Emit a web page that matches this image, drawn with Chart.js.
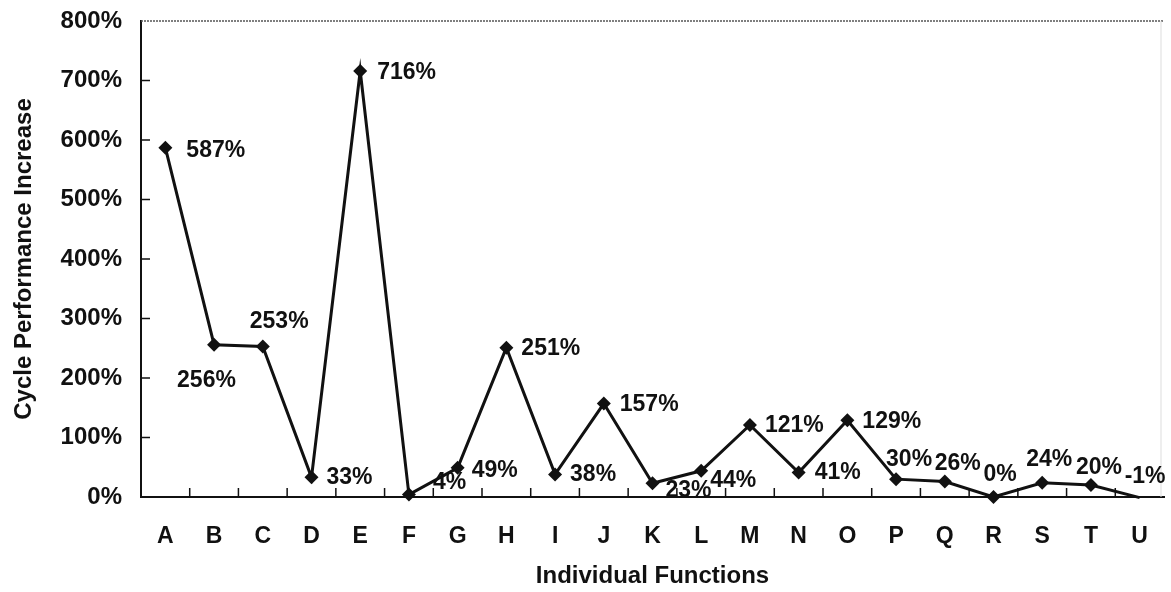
<!DOCTYPE html>
<html>
<head>
<meta charset="utf-8">
<script src="https://cdn.jsdelivr.net/npm/chart.js@4.4.0/dist/chart.umd.min.js"></script>
<style>
    html, body { margin: 0; padding: 0; background: #fff; }
    #wrap { position: relative; width: 1171px; height: 592px; }
</style>
</head>
<body>
<div id="wrap"><canvas id="mainChart"></canvas></div>
<script>
// Data
const functions = ['A', 'B', 'C', 'D', 'E', 'F', 'G', 'H', 'I', 'J', 'K',
                   'L', 'M', 'N', 'O', 'P', 'Q', 'R', 'S', 'T', 'U'];
const increase = [587, 256, 253, 33, 716, 4, 49, 251, 38, 157, 23,
                  44, 121, 41, 129, 30, 26, 0, 24, 20, -1];
const yMin = 0;
const yMax = 800;
const yStep = 100;
const xTitle = 'Individual Functions';
const yTitle = 'Cycle Performance Increase';

// where each value label sits relative to its point (dx, dy in px)
const labelShift = [
    [21, 3], [-37, 36], [-13, -25], [15, 0], [17, 2], [24, -12], [14, 3],
    [15, 1], [15, 0], [16, 1], [13, 7], [9, 10], [15, 1], [16, 0],
    [15, 1], [-10, -19], [-10, -18], [-10, -22], [-16, -23], [-15, -17], [-15, -21]
];

const FONT = '"Liberation Sans", Arial, Helvetica, sans-serif';
const INK = '#111';

// value labels, inward tick marks and the top/right frame
const decorations = {
    id: 'decorations',
    afterDatasetsDraw(chart) {
        const { ctx, chartArea: area, scales: { x, y } } = chart;
        ctx.save();

        // top frame (dotted grey) and right frame (light grey)
        ctx.strokeStyle = '#555';
        ctx.lineWidth = 1.5;
        ctx.setLineDash([2, 1]);
        ctx.beginPath();
        ctx.moveTo(area.left, area.top);
        ctx.lineTo(area.right, area.top);
        ctx.stroke();
        ctx.setLineDash([]);
        ctx.strokeStyle = '#ddd';
        ctx.lineWidth = 1;
        ctx.beginPath();
        ctx.moveTo(area.right - 3, area.top);
        ctx.lineTo(area.right - 3, area.bottom);
        ctx.stroke();

        // inward ticks
        ctx.strokeStyle = INK;
        ctx.lineWidth = 1.5;
        ctx.beginPath();
        for (let v = yMin + yStep; v < yMax; v += yStep) {
            const py = y.getPixelForValue(v);
            ctx.moveTo(area.left, py);
            ctx.lineTo(area.left + 9, py);
        }
        for (let i = 0; i < functions.length - 1; i++) {
            const px = (x.getPixelForValue(i) + x.getPixelForValue(i + 1)) / 2;
            ctx.moveTo(px, area.bottom);
            ctx.lineTo(px, area.bottom - 9);
        }
        ctx.stroke();

        // value labels
        const meta = chart.getDatasetMeta(0);
        ctx.fillStyle = INK;
        ctx.font = 'bold 23px ' + FONT;
        ctx.textAlign = 'left';
        ctx.textBaseline = 'middle';
        meta.data.forEach((pt, i) => {
            const [dx, dy] = labelShift[i];
            ctx.fillText(increase[i] + '%', pt.x + dx, pt.y + dy);
        });
        ctx.restore();
    }
};

const ctx = document.getElementById('mainChart').getContext('2d');
const mainChart = new Chart(ctx, {
    type: 'line',
    data: {
        labels: functions,
        datasets: [{
            data: increase,
            borderColor: INK,
            backgroundColor: INK,
            borderWidth: 3,
            tension: 0,
            pointStyle: 'rectRot',
            pointRadius: c => (c.dataIndex === increase.length - 1 ? 0 : 7),
            pointBorderWidth: 0,
            clip: false
        }]
    },
    options: {
        responsive: true,
        maintainAspectRatio: false,
        animation: false,
        layout: { padding: { top: 21, right: 0, left: 0, bottom: 0 } },
        plugins: {
            legend: { display: false },
            tooltip: { enabled: false }
        },
        scales: {
            x: {
                offset: true,
                grid: { drawOnChartArea: false, drawTicks: true, tickLength: 26, tickColor: 'transparent' },
                border: { color: INK, width: 2 },
                ticks: {
                    color: INK,
                    padding: 0,
                    font: { family: FONT, size: 23, weight: 'bold' }
                },
                title: {
                    display: true,
                    text: xTitle,
                    color: INK,
                    padding: { top: 0, bottom: 1 },
                    font: { family: FONT, size: 24, weight: 'bold' }
                },
                afterFit(scale) {
                    scale.height = 95;
                    scale.paddingLeft = 0;
                    scale.paddingRight = 0;
                }
            },
            y: {
                min: yMin,
                max: yMax,
                grid: { drawOnChartArea: false, drawTicks: true, tickLength: 19, tickColor: 'transparent' },
                border: { color: INK, width: 2 },
                ticks: {
                    stepSize: yStep,
                    color: INK,
                    padding: 0,
                    font: { family: FONT, size: 24, weight: 'bold' },
                    callback: v => v + '%'
                },
                title: {
                    display: true,
                    text: yTitle,
                    color: INK,
                    padding: { top: 10, bottom: 0 },
                    font: { family: FONT, size: 24, weight: 'bold' }
                },
                afterFit(scale) { scale.width = 141; }
            }
        }
    },
    plugins: [decorations]
});
</script>
</body>
</html>
